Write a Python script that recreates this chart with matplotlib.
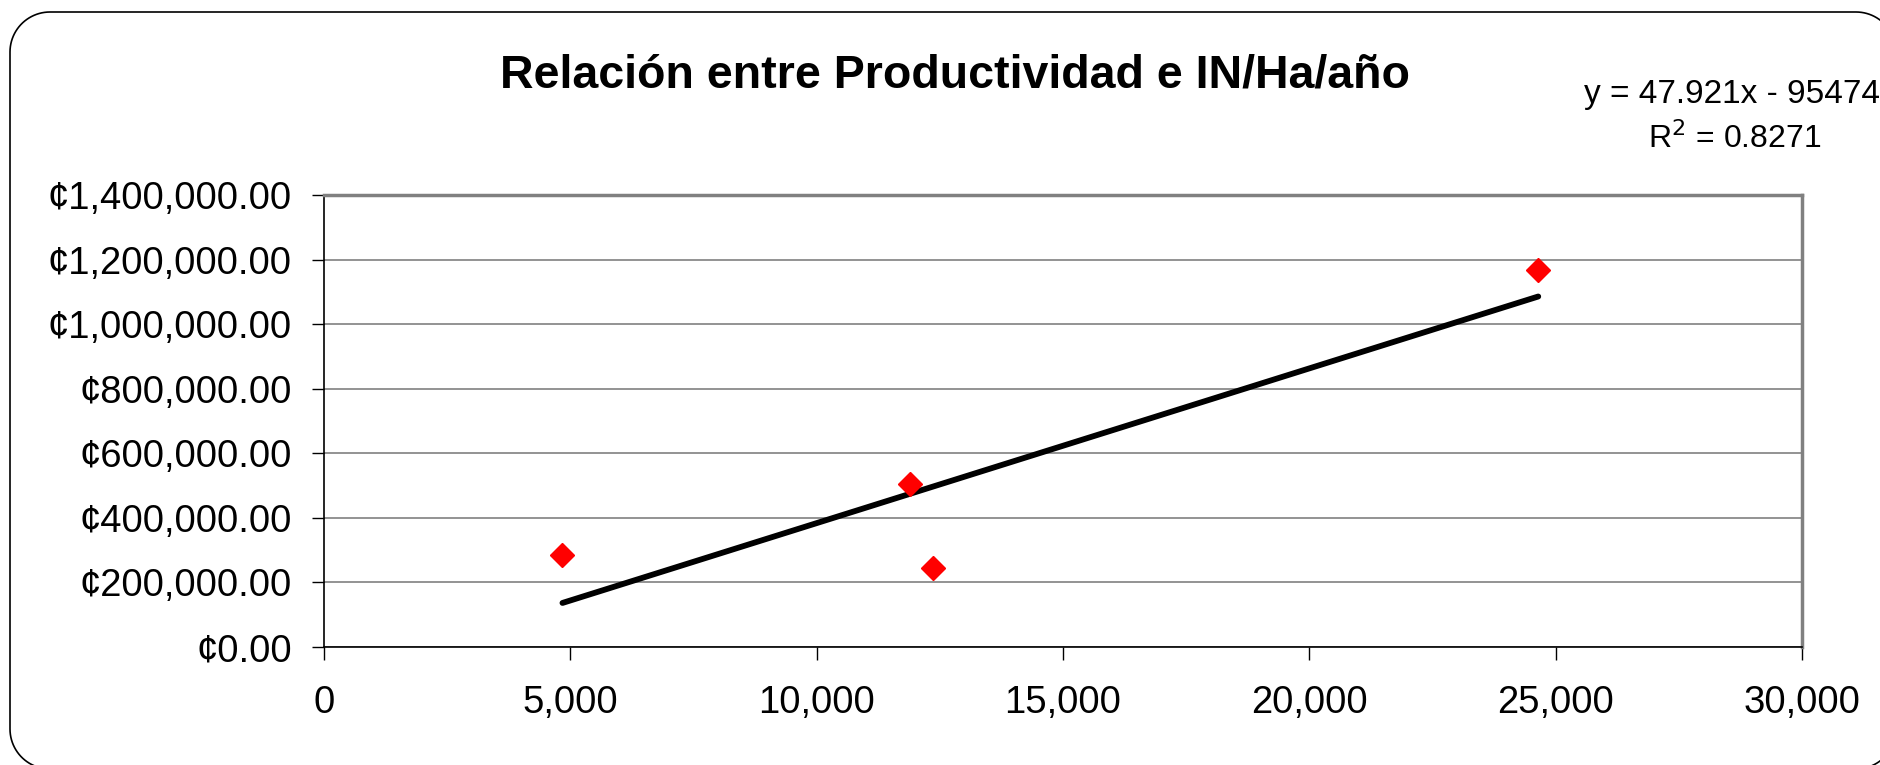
import matplotlib.pyplot as plt
from matplotlib.patches import Polygon
from matplotlib.ticker import FuncFormatter
import numpy as np

# Data
in_ha_year = [4842, 11898, 12360, 24647]
productivity = [285700, 504600, 244900, 1168800]
slope = 47.921
intercept = -95474
r_squared = 0.8271

x_ticks = [0, 5000, 10000, 15000, 20000, 25000, 30000]
y_ticks = [0, 200000, 400000, 600000, 800000, 1000000, 1200000, 1400000]

plt.rcParams['font.family'] = ['Liberation Sans', 'DejaVu Sans']


def rounded_rect(x0, y0, x1, y1, r, n=24):
    """Vertices of a rounded rectangle as a polyline (pixel coords)"""
    pts = []
    corners = [(x1 - r, y1 - r, 0), (x0 + r, y1 - r, 90),
               (x0 + r, y0 + r, 180), (x1 - r, y0 + r, 270)]
    for cx, cy, a0 in corners:
        t = np.radians(np.linspace(a0, a0 + 90, n))
        pts.extend(zip(cx + r * np.cos(t), cy + r * np.sin(t)))
    return np.array(pts)


fig = plt.figure(figsize=(18.8, 7.65), dpi=100)

# rounded chart-area border, drawn in pixels
frame = Polygon(rounded_rect(10, -4, 1896, 753, 40), closed=True, fill=False,
                edgecolor='black', linewidth=1.2, transform=None, zorder=-1)
fig.patches.append(frame)

ax = fig.add_axes([0.1723, 0.1542, 0.7862, 0.5909])
ax.set_facecolor('white')

ax.set_xlim(0, 30000)
ax.set_ylim(0, 1400000)
ax.set_xticks(x_ticks)
ax.set_yticks(y_ticks)
ax.xaxis.set_major_formatter(FuncFormatter(lambda v, p: f"{v:,.0f}"))
ax.yaxis.set_major_formatter(FuncFormatter(lambda v, p: f"¢{v:,.2f}"))
ax.tick_params(axis='both', labelsize=27.5, length=9, width=1, color='black', direction='out')
ax.tick_params(axis='y', pad=14)
ax.tick_params(axis='x', pad=18)

ax.grid(axis='y', color='#808080', linewidth=1.2)
ax.set_axisbelow(True)
for side in ['top', 'right']:
    ax.spines[side].set_color('#808080')
    ax.spines[side].set_linewidth(2.5)
for side in ['left', 'bottom']:
    ax.spines[side].set_color('black')
    ax.spines[side].set_linewidth(1.2)

# linear trendline over the data range
xs = np.array([min(in_ha_year), max(in_ha_year)])
ax.plot(xs, slope * xs + intercept, color='black', linewidth=4.2,
        solid_capstyle='round', zorder=3)
ax.plot(in_ha_year, productivity, linestyle='none', marker='D', markersize=12,
        color='red', markeredgecolor='red', zorder=4)

fig.text(955 / 1880, 1 - 75 / 765, "Relación entre Productividad e IN/Ha/año",
         fontsize=33.5, fontweight='bold', ha='center', va='center')
fig.text(1584 / 1880, 1 - 95 / 765, f"y = {slope}x - {abs(intercept)}",
         fontsize=24, ha='left', va='center')
fig.text(1735 / 1880, 1 - 139 / 765, f"R$^2$ = {r_squared}",
         fontsize=23, ha='center', va='center')

fig.savefig('out.png', dpi=100)
